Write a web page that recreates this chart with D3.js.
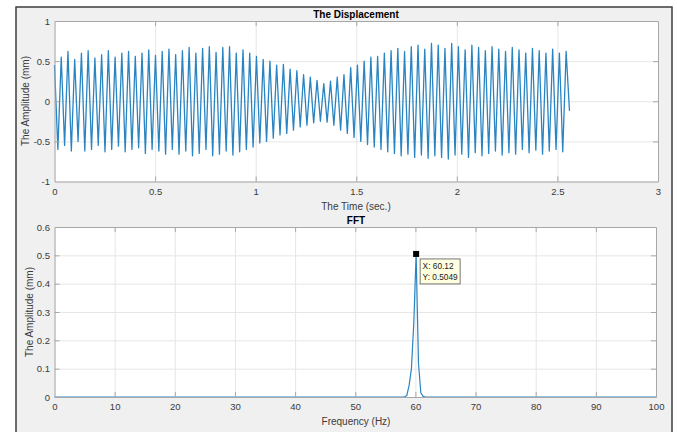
<!DOCTYPE html>
<html>
<head>
<meta charset="utf-8">
<script src="https://cdn.jsdelivr.net/npm/d3@7/dist/d3.min.js"></script>
<style>
  html, body { margin: 0; padding: 0; background: #ffffff; }
  svg { display: block; font-family: "Liberation Sans", Arial, Helvetica, sans-serif; }
</style>
</head>
<body>
<svg id="fig" width="677" height="432"></svg>
<script>
// ---- Displacement record (mm), 0 .. 2.56 s ----
const timeEnd = 2.56;
// successive crest values of the trace
const displacementPeaks = [
  0.45,
  0.55, 0.62, 0.52, 0.60, 0.63, 0.54, 0.58, 0.63, 0.55,
  0.60, 0.62, 0.56, 0.60, 0.64, 0.57, 0.62, 0.65, 0.58,
  0.63, 0.67, 0.60, 0.66, 0.68, 0.61, 0.67, 0.68, 0.60,
  0.64, 0.60, 0.56,
  0.52, 0.50, 0.45, 0.46, 0.40, 0.38, 0.33, 0.30, 0.26, 0.22,
  0.25, 0.30, 0.33, 0.42, 0.45, 0.50, 0.55, 0.56, 0.60, 0.63,
  0.66, 0.62, 0.68, 0.70, 0.65, 0.72, 0.70, 0.66, 0.72, 0.68,
  0.64, 0.70, 0.67, 0.63, 0.68, 0.65, 0.62, 0.67, 0.64, 0.60,
  0.66, 0.63, 0.60, 0.65, 0.60, 0.62
];
// successive trough values between the crests
const displacementTroughs = [
  -0.60, -0.55, -0.62, -0.50, -0.62, -0.60, -0.55, -0.63, -0.60,
  -0.56, -0.63, -0.60, -0.58, -0.65, -0.60, -0.62, -0.66, -0.60,
  -0.66, -0.62, -0.68, -0.65, -0.60, -0.68, -0.66, -0.62, -0.67,
  -0.63, -0.60, -0.57,
  -0.52, -0.50, -0.46, -0.42, -0.40, -0.36, -0.32, -0.30, -0.27, -0.25,
  -0.26, -0.30, -0.36, -0.40, -0.45, -0.50, -0.54, -0.57, -0.60, -0.63,
  -0.65, -0.68, -0.66, -0.70, -0.67, -0.71, -0.68, -0.70, -0.72, -0.67,
  -0.66, -0.70, -0.64, -0.68, -0.65, -0.62, -0.67, -0.64, -0.66, -0.60,
  -0.64, -0.61, -0.66, -0.62, -0.60, -0.63
];
const displacementLast = -0.12;

// ---- Single-sided amplitude spectrum ----
const fftFreq = [0, 58.17, 58.56, 58.95, 59.34, 59.73, 60.12, 60.51, 60.90, 61.29, 61.68, 100];
const fftAmp  = [0, 0,     0.005, 0.04,  0.10,  0.26,  0.5049, 0.12, 0.015, 0.002, 0,     0];

// data tip on the spectral peak
const tipX = 60.12, tipY = 0.5049;

// ---- tick labels ----
const timeTicks = [0, 0.5, 1, 1.5, 2, 2.5, 3];
const dispTicks = [-1, -0.5, 0, 0.5, 1];
const freqTicks = [0, 10, 20, 30, 40, 50, 60, 70, 80, 90, 100];
const ampTicks  = [0, 0.1, 0.2, 0.3, 0.4, 0.5, 0.6];

// build the displacement samples: crest, trough, crest, ... , last sample
const dispSeries = [];
displacementPeaks.forEach((p, i) => {
  dispSeries.push(p);
  if (i < displacementTroughs.length) dispSeries.push(displacementTroughs[i]);
});
dispSeries.push(displacementLast);
const dt = timeEnd / (dispSeries.length - 1);
const dispData = dispSeries.map((v, i) => ({ x: i * dt, y: v }));
const fftData = fftFreq.map((f, i) => ({ x: f, y: fftAmp[i] }));

const LINE = "#2a84c2";
const TEXT = "#3a3a3a";
const AXIS = "#a8a8a8";
const GRID = "#e6e6e6";

const svg = d3.select("#fig");

// figure window
svg.append("rect").attr("x", 16).attr("y", 7).attr("width", 656).attr("height", 440)
  .attr("fill", "#f0f0f0").attr("stroke", "#3c3c3c").attr("stroke-width", 1.5);

function panel(opt) {
  const { x0, x1, y0, y1, xDomain, yDomain, xTicks, yTicks } = opt;
  const xs = d3.scaleLinear().domain(xDomain).range([x0, x1]);
  const ys = d3.scaleLinear().domain(yDomain).range([y1, y0]);
  const g = svg.append("g");

  g.append("rect").attr("x", x0).attr("y", y0).attr("width", x1 - x0).attr("height", y1 - y0)
    .attr("fill", "#ffffff");

  // grid
  const gx = g.append("g").attr("transform", `translate(0,${y1})`)
    .call(d3.axisBottom(xs).tickValues(xTicks).tickSize(-(y1 - y0)).tickFormat(""));
  const gy = g.append("g").attr("transform", `translate(${x0},0)`)
    .call(d3.axisLeft(ys).tickValues(yTicks).tickSize(-(x1 - x0)).tickFormat(""));
  [gx, gy].forEach(a => {
    a.select(".domain").remove();
    a.selectAll("line").attr("stroke", GRID).attr("stroke-width", 1);
  });

  const plot = g.append("g");

  // axes with inward ticks on all four sides
  const tl = 5;
  const fmt = d => String(d);
  const bottom = g.append("g").attr("transform", `translate(0,${y1})`)
    .call(d3.axisBottom(xs).tickValues(xTicks).tickSizeInner(-tl).tickSizeOuter(0).tickPadding(6.5).tickFormat(fmt));
  const top = g.append("g").attr("transform", `translate(0,${y0})`)
    .call(d3.axisTop(xs).tickValues(xTicks).tickSizeInner(-tl).tickSizeOuter(0).tickFormat(""));
  const left = g.append("g").attr("transform", `translate(${x0},0)`)
    .call(d3.axisLeft(ys).tickValues(yTicks).tickSizeInner(-tl).tickSizeOuter(0).tickPadding(4.5).tickFormat(fmt));
  const right = g.append("g").attr("transform", `translate(${x1},0)`)
    .call(d3.axisRight(ys).tickValues(yTicks).tickSizeInner(-tl).tickSizeOuter(0).tickFormat(""));
  [bottom, top, left, right].forEach(a => {
    a.select(".domain").attr("stroke", AXIS);
    a.selectAll(".tick line").attr("stroke", AXIS);
    a.selectAll("text").attr("fill", TEXT).style("font-size", "9.5px");
  });
  // drop end ticks that would sit on the box corners
  [bottom, top].forEach(a => a.selectAll(".tick line").filter(d => d === xDomain[0] || d === xDomain[1]).remove());
  [left, right].forEach(a => a.selectAll(".tick line").filter(d => d === yDomain[0] || d === yDomain[1]).remove());

  return { xs, ys, plot, g };
}

// ---- top: displacement ----
const p1 = panel({
  x0: 54.5, x1: 658, y0: 21, y1: 181.5,
  xDomain: [0, 3], yDomain: [-1, 1],
  xTicks: timeTicks, yTicks: dispTicks
});
p1.plot.append("path").datum(dispData)
  .attr("fill", "none").attr("stroke", LINE).attr("stroke-width", 1.3)
  .attr("stroke-linejoin", "round")
  .attr("d", d3.line().x(d => p1.xs(d.x)).y(d => p1.ys(d.y)));

svg.append("text").attr("x", 356).attr("y", 17.5).attr("text-anchor", "middle")
  .attr("font-weight", "bold").attr("font-size", 10).attr("fill", "#000").text("The Displacement");
svg.append("text").attr("x", 356).attr("y", 210).attr("text-anchor", "middle")
  .attr("font-size", 10).attr("fill", TEXT).text("The Time (sec.)");
svg.append("text").attr("transform", "translate(28.5,101) rotate(-90)").attr("text-anchor", "middle")
  .attr("font-size", 10).attr("fill", TEXT).text("The Amplitude (mm)");

// ---- bottom: FFT ----
const p2 = panel({
  x0: 54.5, x1: 656, y0: 227, y1: 397,
  xDomain: [0, 100], yDomain: [0, 0.6],
  xTicks: freqTicks, yTicks: ampTicks
});
p2.plot.append("path").datum(fftData)
  .attr("fill", "none").attr("stroke", LINE).attr("stroke-width", 1.2)
  .attr("stroke-linejoin", "round")
  .attr("d", d3.line().x(d => p2.xs(d.x)).y(d => p2.ys(d.y)));

svg.append("text").attr("x", 356).attr("y", 223.5).attr("text-anchor", "middle")
  .attr("font-weight", "bold").attr("font-size", 10).attr("fill", "#000").text("FFT");
svg.append("text").attr("x", 356).attr("y", 424.5).attr("text-anchor", "middle")
  .attr("font-size", 10).attr("fill", TEXT).text("Frequency (Hz)");
svg.append("text").attr("transform", "translate(32.5,312) rotate(-90)").attr("text-anchor", "middle")
  .attr("font-size", 10).attr("fill", TEXT).text("The Amplitude (mm)");

// data tip
const mx = p2.xs(tipX), my = p2.ys(tipY);
svg.append("rect").attr("x", mx - 3).attr("y", my - 3).attr("width", 6).attr("height", 6).attr("fill", "#000");
const tip = svg.append("g").attr("transform", `translate(${mx + 4},${my + 5})`);
tip.append("rect").attr("x", 0).attr("y", 0).attr("width", 40).attr("height", 25)
  .attr("fill", "#ffffe1").attr("stroke", "#555").attr("stroke-width", 0.8);
tip.append("text").attr("x", 2.5).attr("y", 10.5).attr("font-size", 8.3).attr("fill", "#222")
  .text("X: " + tipX.toFixed(2));
tip.append("text").attr("x", 2.5).attr("y", 21.5).attr("font-size", 8.3).attr("fill", "#222")
  .text("Y: " + tipY.toFixed(4));
</script>
</body>
</html>
